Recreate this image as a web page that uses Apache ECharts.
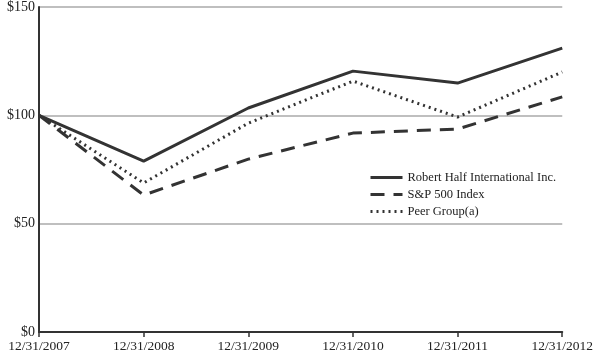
<!DOCTYPE html>
<html><head><meta charset="utf-8">
<script src="https://cdn.jsdelivr.net/npm/echarts@6/dist/echarts.min.js"></script>
<style>html,body{margin:0;padding:0;background:#fff}#c{width:596px;height:357px}</style>
</head><body><div id="c"></div>
<script>
const categories = ['12/31/2007','12/31/2008','12/31/2009','12/31/2010','12/31/2011','12/31/2012'];
const robertHalf = [100, 78.9, 103.4, 120.4, 114.9, 131.0];
const sp500 = [100, 63.2, 79.8, 91.8, 93.7, 108.5];
const peerGroup = [100, 68.8, 96.4, 115.8, 99.2, 120.0];
const seriesNames = ['Robert Half International Inc.', 'S&P 500 Index', 'Peer Group(a)'];
const yTicks = [0, 50, 100, 150];

const font = '"Liberation Serif", "Times New Roman", serif';
const col = '#333333';
const chart = echarts.init(document.getElementById('c'));
function mk(name, data, type) {
  return { name, type: 'line', data, symbol: 'none', showSymbol: false, silent: true,
    lineStyle: { color: col, width: 3, type: type },
    itemStyle: { color: col } };
}
chart.setOption({
  animation: false,
  textStyle: { fontFamily: font },
  grid: { left: 39, right: 31, top: 7, bottom: 25 },
  legend: {
    orient: 'vertical', left: 364, top: 166, itemWidth: 32, itemHeight: 12, itemGap: 4,
    icon: 'inherit',
    itemStyle: { opacity: 0 },
    lineStyle: { width: 3 },
    textStyle: { fontFamily: font, fontSize: 12.5, color: '#222', padding: [0,0,0,0] },
    data: seriesNames
  },
  xAxis: {
    type: 'category', data: categories, boundaryGap: false,
    axisLine: { lineStyle: { color: col, width: 2 } },
    axisTick: { show: true, length: 5, lineStyle: { color: col, width: 1.5 } },
    axisLabel: { fontFamily: font, fontSize: 13.5, color: '#222', margin: 7,
      showMinLabel: true, showMaxLabel: true, interval: 0 },
    splitLine: { show: false }
  },
  yAxis: {
    type: 'value', min: 0, max: 150, interval: 50,
    axisLine: { show: true, lineStyle: { color: col, width: 2 } },
    axisTick: { show: false },
    axisLabel: { fontFamily: font, fontSize: 14, color: '#222', margin: 4, formatter: v => '$' + v },
    splitLine: { lineStyle: { color: '#aaaaaa', width: 1.5 } }
  },
  series: [
    mk(seriesNames[0], robertHalf, 'solid'),
    mk(seriesNames[1], sp500, [14, 9]),
    mk(seriesNames[2], peerGroup, [2, 4])
  ]
});
</script></body></html>
